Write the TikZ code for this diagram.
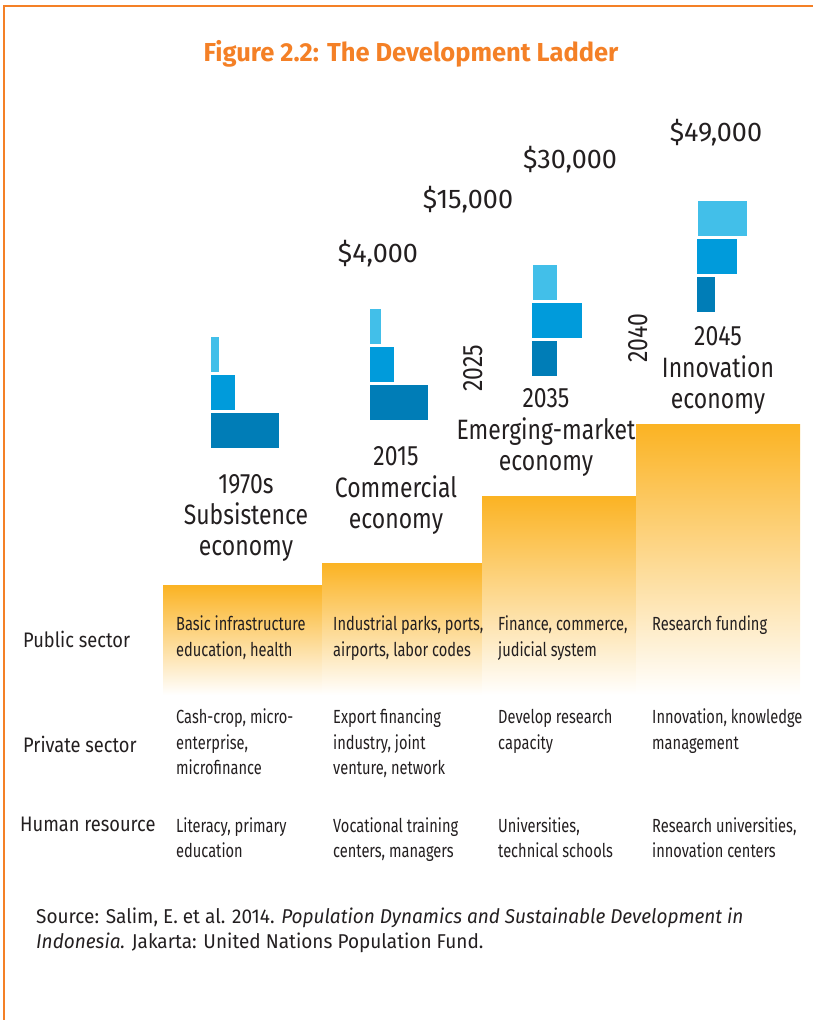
\documentclass[tikz,border=0pt]{standalone}
\usepackage{fontspec}
\setmainfont{Fira Sans}
\newfontfamily\bigf[FakeStretch=0.82]{Fira Sans}
\newfontfamily\tabf[FakeStretch=0.77]{Fira Sans}
\newfontfamily\rowf[FakeStretch=0.87]{Fira Sans}
\newfontfamily\srcf[FakeStretch=0.95]{Fira Sans}
\newfontfamily\titf[FakeStretch=0.98]{Fira Sans}
\definecolor{frameor}{RGB}{244,128,38}
\definecolor{stepor}{RGB}{251,179,35}
\definecolor{ink}{RGB}{35,31,32}
\definecolor{blueL}{RGB}{66,191,233}
\definecolor{blueM}{RGB}{0,155,219}
\definecolor{blueD}{RGB}{0,125,183}
\tikzset{
  ttl/.style={anchor=base, inner sep=0pt, text=frameor, font=\titf\bfseries\fontsize{26}{30}\selectfont},
  dollar/.style={anchor=base, inner sep=0pt, text=ink, font=\fontsize{27}{30}\selectfont},
  big/.style={anchor=base, inner sep=0pt, text=ink, font=\bigf\fontsize{28}{32}\selectfont},
  yr/.style={inner sep=0pt, text=ink, rotate=90, font=\bigf\fontsize{28}{32}\selectfont},
  rowlab/.style={anchor=base west, inner sep=0pt, text=ink, font=\rowf\fontsize{21}{24}\selectfont},
  cell/.style={anchor=base west, inner sep=0pt, text=ink, font=\tabf\fontsize{19}{24}\selectfont},
  src/.style={anchor=base west, inner sep=0pt, text=ink, font=\srcf\fontsize{20}{24}\selectfont},
  stepbar/.style={top color=stepor, bottom color=white},
}
\begin{document}
\begin{tikzpicture}[x=1pt,y=-1pt]
\useasboundingbox (0,0) rectangle (813,1020);
% frame
\draw[frameor, line width=2.5pt] (4,1020) -- (4,6) -- (813,6);
% title
\node[ttl] (title) at (411,61) {Figure 2.2: The Development Ladder};
% steps
\shade[stepbar] (163,585) rectangle (322,695);
\shade[stepbar] (322,563) rectangle (482,695);
\shade[stepbar] (482,496) rectangle (636,695);
\shade[stepbar] (636,424) rectangle (800,695);
% blue icons
\fill[blueL] (211,337) rectangle (219,372);
\fill[blueM] (211,375) rectangle (235,410);
\fill[blueD] (211,413) rectangle (279,448);
\fill[blueL] (370,309) rectangle (381,344);
\fill[blueM] (370,347) rectangle (394,382);
\fill[blueD] (370,385) rectangle (428,420);
\fill[blueL] (533,265) rectangle (557,300);
\fill[blueM] (532,303) rectangle (582,338);
\fill[blueD] (532,341) rectangle (557,376);
\fill[blueL] (698,201) rectangle (747,236);
\fill[blueM] (697,239) rectangle (737,274);
\fill[blueD] (697,277) rectangle (715,312);
% dollar values
\node[dollar] (d1) at (378,262) {\$4,000};
\node[dollar] (d2) at (468,208) {\$15,000};
\node[dollar] (d3) at (570,168) {\$30,000};
\node[dollar] (d4) at (716,141) {\$49,000};
% rotated years
\node[yr] (y2025) at (473,368) {2025};
\node[yr] (y2040) at (638,338) {2040};
% stage labels
\node[big] (s1a) at (246,493) {1970s};
\node[big] (s1b) at (246,524) {Subsistence};
\node[big] (s1c) at (246,555) {economy};
\node[big] (s2a) at (396,465) {2015};
\node[big] (s2b) at (396,497) {Commercial};
\node[big] (s2c) at (396,528) {economy};
\node[big] (s3a) at (546,407) {2035};
\node[big] (s3b) at (546,439) {Emerging-market};
\node[big] (s3c) at (546,470) {economy};
\node[big] (s4a) at (718,345) {2045};
\node[big] (s4b) at (718,377) {Innovation};
\node[big] (s4c) at (718,408) {economy};
% row labels
\node[rowlab] (rpub) at (23,647) {Public sector};
\node[rowlab] (rpri) at (23,752) {Private sector};
\node[rowlab] (rhum) at (20,831) {Human resource};
% public
\node[cell] (p1a) at (176,630) {Basic infrastructure};
\node[cell] (p1b) at (176,656) {education, health};
\node[cell] (p2a) at (333,630) {Industrial parks, ports,};
\node[cell] (p2b) at (333,656) {airports, labor codes};
\node[cell] (p3a) at (498,630) {Finance, commerce,};
\node[cell] (p3b) at (498,656) {judicial system};
\node[cell] (p4a) at (652,630) {Research funding};
% private
\node[cell] (v1a) at (176,723) {Cash-crop, micro-};
\node[cell] (v1b) at (176,749) {enterprise,};
\node[cell] (v1c) at (176,774) {microfinance};
\node[cell] (v2a) at (333,723) {Export financing};
\node[cell] (v2b) at (333,749) {industry, joint};
\node[cell] (v2c) at (333,774) {venture, network};
\node[cell] (v3a) at (498,723) {Develop research};
\node[cell] (v3b) at (498,749) {capacity};
\node[cell] (v4a) at (652,723) {Innovation, knowledge};
\node[cell] (v4b) at (652,749) {management};
% human
\node[cell] (h1a) at (176,832) {Literacy, primary};
\node[cell] (h1b) at (176,857) {education};
\node[cell] (h2a) at (333,832) {Vocational training};
\node[cell] (h2b) at (333,857) {centers, managers};
\node[cell] (h3a) at (498,832) {Universities,};
\node[cell] (h3b) at (498,857) {technical schools};
\node[cell] (h4a) at (652,832) {Research universities,};
\node[cell] (h4b) at (652,857) {innovation centers};
% source
\node[src] (srcA) at (36,923) {Source: Salim, E. et al. 2014. \textit{Population Dynamics and Sustainable Development in}};
\node[src] (srcB) at (36,948) {\textit{Indonesia.} Jakarta: United Nations Population Fund.};
\end{tikzpicture}
\end{document}
